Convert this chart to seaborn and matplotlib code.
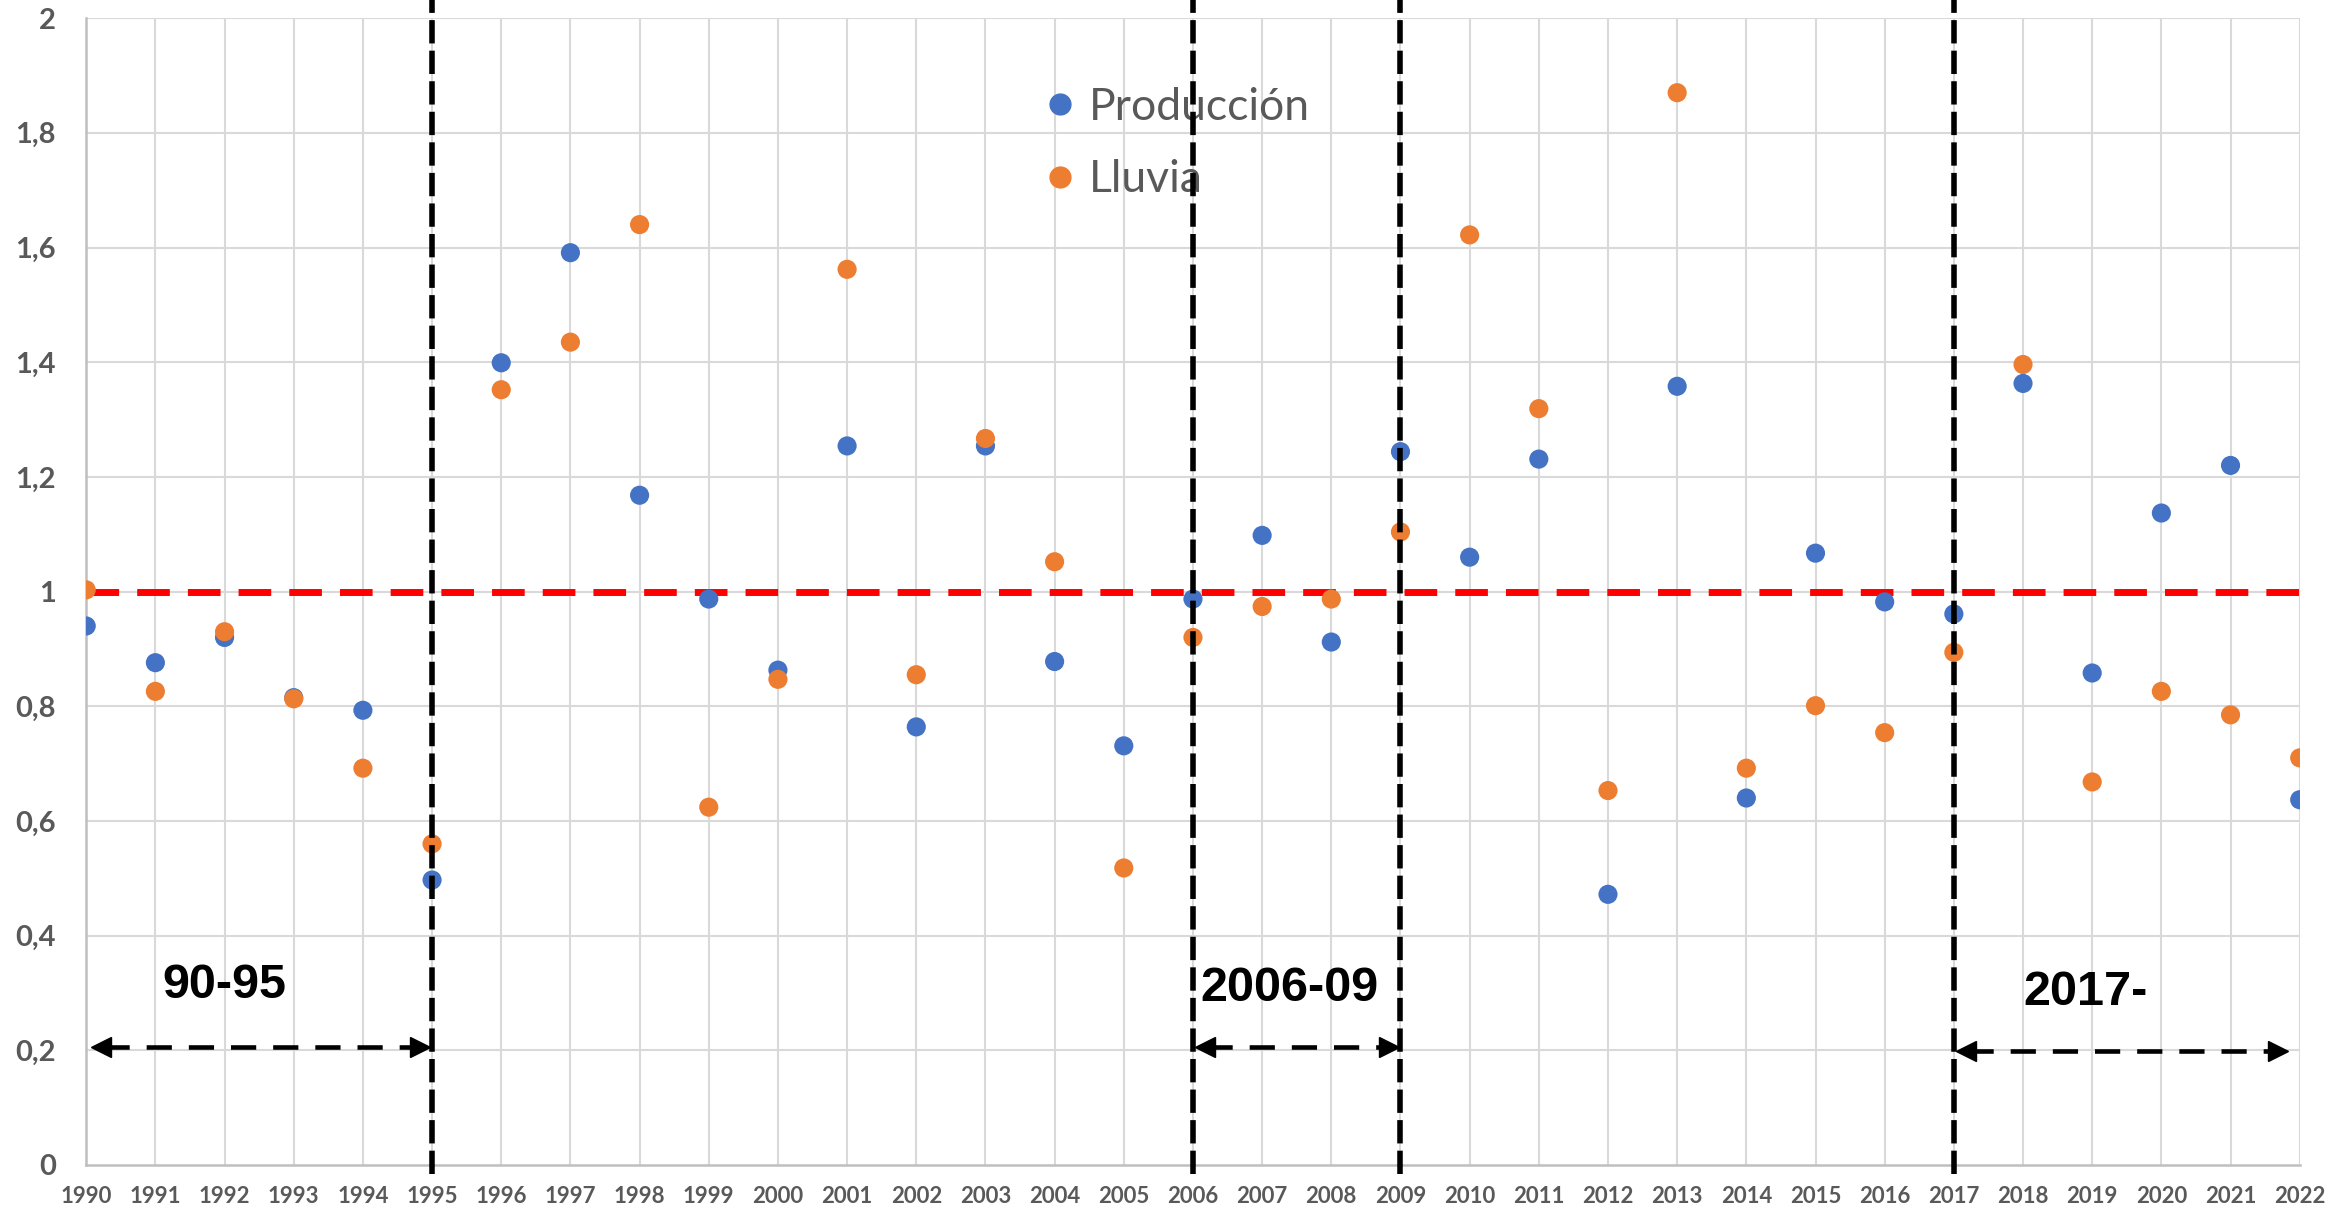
import numpy as np
import pandas as pd
import seaborn as sns
import matplotlib.pyplot as plt
from matplotlib.lines import Line2D

# data
years = list(range(1990, 2023))
produccion = [0.940, 0.876, 0.920, 0.815, 0.793, 0.497, 1.399, 1.591, 1.168, 0.987,
              0.863, 1.254, 0.764, 1.254, 0.878, 0.731, 0.987, 1.098, 0.912, 1.244,
              1.060, 1.231, 0.472, 1.358, 0.640, 1.067, 0.982, 0.961, 1.363, 0.858,
              1.137, 1.220, 0.637]
lluvia = [1.003, 0.826, 0.930, 0.813, 0.692, 0.560, 1.352, 1.435, 1.640, 0.624,
          0.847, 1.562, 0.855, 1.267, 1.052, 0.518, 0.920, 0.974, 0.987, 1.104,
          1.622, 1.319, 0.653, 1.870, 0.692, 0.801, 0.754, 0.894, 1.396, 0.668,
          0.826, 0.785, 0.710]
series_names = ['Producción', 'Lluvia']
series_colors = ['#4472C4', '#ED7D31']

breaks = [1995, 2006, 2009, 2017]
periods = ['90-95', '2006-09', '2017-']
period_spans = [(1990.1, 1994.95), (2006.05, 2008.95), (2017.05, 2021.8)]
period_arrow_y = [0.205, 0.205, 0.198]
period_label_x = [1992.0, 2007.4, 2018.9]
period_label_y = [0.313, 0.308, 0.300]

df = pd.DataFrame({
    'Año': years * 2,
    'Valor': produccion + lluvia,
    'Serie': [series_names[0]] * len(years) + [series_names[1]] * len(years),
})

sns.set_style('white')
plt.rcParams['font.family'] = ['Lato', 'DejaVu Sans']

fig = plt.figure(figsize=(23.3, 12.11), dpi=100)
ax = fig.add_axes([0.037, 0.038, 0.950, 0.947])

# grid
for yr in years:
    ax.axvline(yr, color='#d9d9d9', lw=1.5, zorder=0)
for yv in np.arange(0.2, 2.01, 0.2):
    ax.axhline(yv, color='#d9d9d9', lw=1.5, zorder=0)

sns.scatterplot(data=df, x='Año', y='Valor', hue='Serie',
                palette=dict(zip(series_names, series_colors)),
                s=190, linewidth=0, legend=False, ax=ax, zorder=3)

# reference line at 1
ax.axhline(1.0, color='#FF0000', lw=5, ls=(0, (4.7, 2.6)), zorder=2)

# period breaks
for b in breaks:
    ax.axvline(b, ymin=-0.008, ymax=1.02, color='black', lw=4.0,
               ls=(0, (4.2, 1.3)), zorder=6, clip_on=False)

# period arrows and labels
for (x0, x1), ya, lab, lx, ly in zip(period_spans, period_arrow_y, periods,
                                      period_label_x, period_label_y):
    ax.plot([x0 + 0.15, x1 - 0.15], [ya, ya], color='black', lw=3.3,
            ls=(0, (5.5, 3.7)), zorder=5)
    ax.plot([x0 + 0.12], [ya], marker='<', color='black', ms=14, ls='', zorder=5)
    ax.plot([x1 - 0.12], [ya], marker='>', color='black', ms=14, ls='', zorder=5)
    ax.text(lx, ly, lab, ha='center', va='center', fontsize=35,
            fontweight='bold', family='Liberation Sans', color='black', zorder=6)

ax.set_xlim(1990, 2022)
ax.set_ylim(0, 2)
ax.set_xticks(years)
ax.set_xticklabels([str(y) for y in years])
yt = np.round(np.arange(0, 2.01, 0.2), 1)
ax.set_yticks(yt)
ax.set_yticklabels([('%g' % v).replace('.', ',') for v in yt])
ax.tick_params(axis='x', length=0, pad=15, labelsize=16, labelcolor='#595959')
ax.tick_params(axis='y', length=0, pad=22, labelsize=21, labelcolor='#595959')
for lbl in ax.get_xticklabels() + ax.get_yticklabels():
    lbl.set_fontweight('bold')
ax.set_xlabel('')
ax.set_ylabel('')

for side in ['top', 'right']:
    ax.spines[side].set_visible(False)
for side in ['left', 'bottom']:
    ax.spines[side].set_color('#bfbfbf')
    ax.spines[side].set_linewidth(1.8)

handles = [Line2D([], [], marker='o', ls='', color=c, markersize=15)
           for c in series_colors]
leg = ax.legend(handles, series_names, loc='upper left',
                bbox_to_anchor=(0.430, 0.940), frameon=False, fontsize=32,
                handlelength=1.0, handletextpad=0.15, borderpad=0,
                borderaxespad=0, labelspacing=0.7)
leg.set_zorder(4)
for t in leg.get_texts():
    t.set_color('#595959')

fig.savefig('out.png', dpi=100)
